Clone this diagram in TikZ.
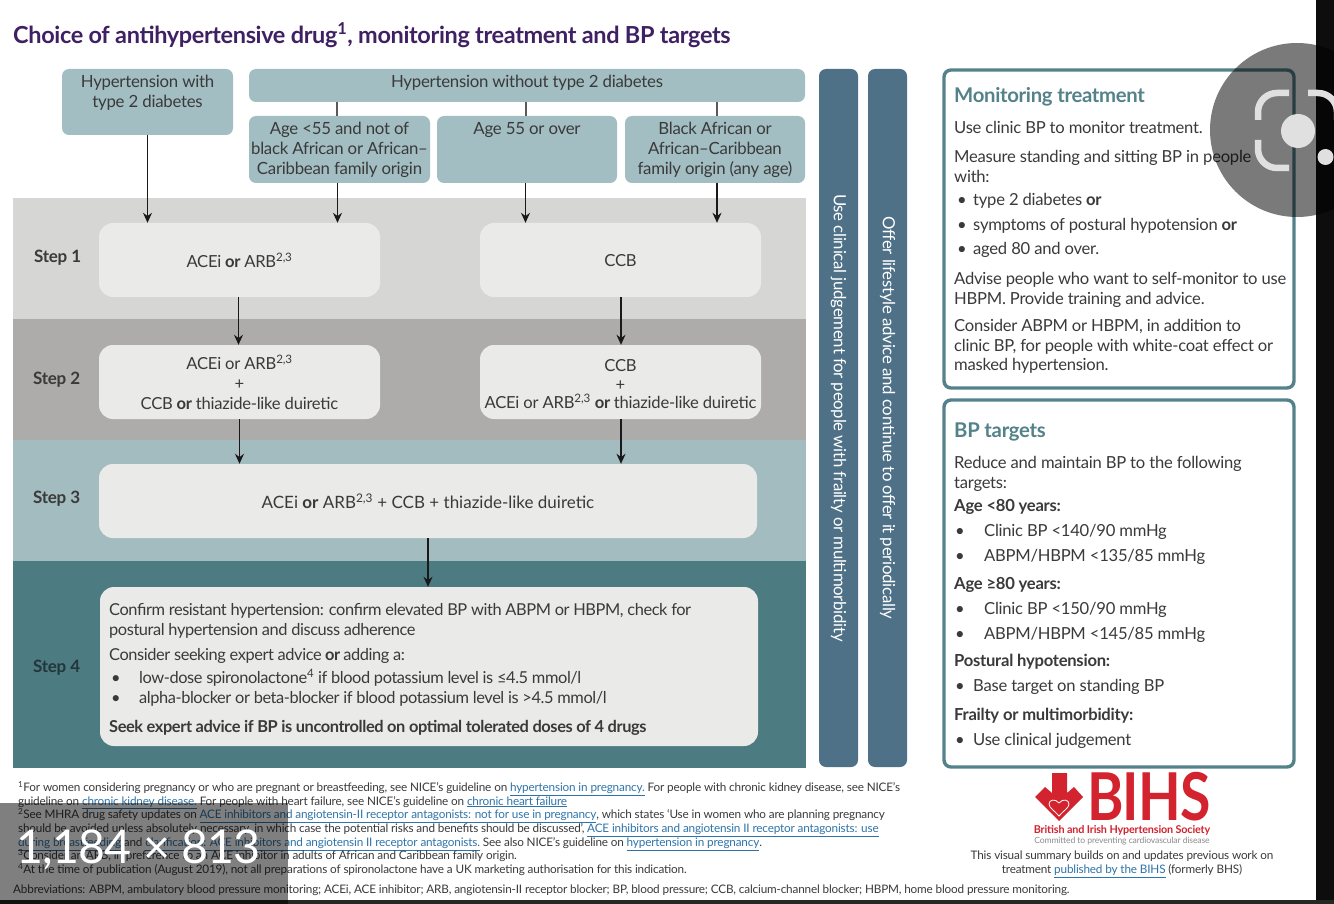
\documentclass[tikz,border=0pt]{standalone}
\usepackage{fontspec}
\setmainfont[LetterSpace=-1.5]{Lato}
\usetikzlibrary{arrows.meta, positioning}
\definecolor{Chdr}{HTML}{A3BEC2}
\definecolor{Cone}{HTML}{D6D6D5}
\definecolor{Ctwo}{HTML}{ADACAA}
\definecolor{Cthree}{HTML}{A2BCC0}
\definecolor{Cfour}{HTML}{4D7B82}
\definecolor{Csoft}{HTML}{EAEAE9}
\definecolor{Cbar}{HTML}{4F7187}
\definecolor{Cpanel}{HTML}{53828A}
\definecolor{Ctxt}{HTML}{3A3A3A}
\definecolor{Ctitle}{HTML}{3F2063}
\definecolor{Clink}{HTML}{2F74A8}
\definecolor{Cred}{HTML}{D2232E}
\newcommand{\lnk}[1]{\textcolor{Clink}{\underline{#1}}}
\newcommand{\bul}[1][19pt]{\makebox[#1][l]{\textbullet}}
\newcommand{\tightlines}{\setlength{\lineskiplimit}{-10pt}}
\tikzset{
  hdrbox/.style={fill=Chdr, rounded corners=7pt, inner sep=0pt, text=Ctxt,
    align=center, font=\fontsize{17}{20}\selectfont},
  hdrtext/.style={inner sep=0pt, text=Ctxt, align=center, anchor=north,
    yshift=-6pt, font=\fontsize{16.8}{20}\selectfont},
  band/.style={inner sep=0pt, minimum width=793pt},
  softbox/.style={fill=Csoft, rounded corners=14pt, inner sep=0pt, text=Ctxt,
    align=center, font=\fontsize{16.6}{20}\selectfont},
  steplabel/.style={inner sep=0pt, text=Ctxt, anchor=west,
    font=\fontsize{17}{20}\selectfont\bfseries},
  sidebar/.style={fill=Cbar, rounded corners=7pt, inner sep=0pt, text=white, rotate=-90,
    minimum width=698pt, minimum height=39pt, font=\fontsize{16.8}{20}\selectfont},
  panel/.style={draw=Cpanel, line width=3.4pt, rounded corners=7pt, inner sep=0pt,
    minimum width=350pt},
  panelhead/.style={inner sep=0pt, anchor=west, text=Cpanel,
    font=\fontsize{20.3}{24}\selectfont\bfseries},
  paneltext/.style={inner sep=0pt, anchor=north west, align=left, text=Ctxt,
    font=\fontsize{16.6}{19.6}\selectfont},
  panelbold/.style={paneltext, font=\fontsize{16.6}{20}\selectfont\bfseries},
  fourtext/.style={paneltext, font=\fontsize{16.4}{20}\selectfont\tightlines\addfontfeatures{LetterSpace=-2.6}},
  footnote/.style={inner sep=0pt, anchor=north west, align=left, text=Ctxt,
    font=\fontsize{11.74}{13.7}\selectfont\tightlines},
  arr/.style={-{Stealth[length=10pt, width=9pt]}, line width=1.2pt, black!90},
  stem/.style={line width=1.2pt, black!65},
  lens/.style={white!88!black, line width=6.5pt, rounded corners=19pt},
}
\begin{document}
\begin{tikzpicture}[x=1pt, y=-1pt]
\useasboundingbox (0,0) rectangle (1334,904);
\fill[white] (0,0) rectangle (1334,904);

%%==========================================================================
%% TITLE
%%==========================================================================
\node[inner sep=0pt, anchor=west, text=Ctitle, font=\fontsize{23.46}{28}\selectfont\bfseries]
  (title) at (13,35) {Choice of antihypertensive drug\textsuperscript{1}, monitoring treatment and BP targets};

%%==========================================================================
%% STEP BANDS
%%==========================================================================
\node[band, fill=Cone, minimum height=121pt] (bandone) at (409.5,258.5) {};
\node[band, fill=Ctwo, minimum height=121pt] (bandtwo) at (409.5,379.5) {};
\node[band, fill=Cthree, minimum height=121pt] (bandthree) at (409.5,500.5) {};
\node[band, fill=Cfour, minimum height=207pt] (bandfour) at (409.5,664.5) {};

\node[steplabel] (lone) at (34,258) {Step 1};
\node[steplabel] (ltwo) at (33,380) {Step 2};
\node[steplabel] (lthree) at (33,499) {Step 3};
\node[steplabel, text=Cfour!45!black] (lfour) at (33,668) {Step 4};

%%==========================================================================
%% ENTRY BOXES
%%==========================================================================
\node[hdrbox, minimum width=171pt, minimum height=66pt,
  label={[hdrtext]north:Hypertension with\\type 2 diabetes}] (diab) at (147.5,102) {};
\node[hdrbox, minimum width=556pt, minimum height=33pt,
  label={[hdrtext]north:Hypertension without type 2 diabetes}] (nodiab) at (527,85.5) {};
\node[hdrbox, minimum width=181pt, minimum height=67pt,
  label={[hdrtext]north:Age <55 and not of\\black African or African--\\Caribbean family origin}] (young) at (339.5,149.5) {};
\node[hdrbox, minimum width=180pt, minimum height=67pt,
  label={[hdrtext]north:Age 55 or over}] (older) at (527,149.5) {};
\node[hdrbox, minimum width=180pt, minimum height=67pt,
  label={[hdrtext]north:Black African or\\African--Caribbean\\family origin (any age)}] (black) at (715,149.5) {};

%%==========================================================================
%% TREATMENT BOXES
%%==========================================================================
\node[softbox, minimum width=281pt, minimum height=74pt] (oneleft) at (239.5,260)
  {ACEi \textbf{or} ARB\textsuperscript{2,3}};
\node[softbox, minimum width=281pt, minimum height=74pt, text height=14pt] (oneright) at (620.5,260) {CCB};
\node[softbox, minimum width=281pt, minimum height=74pt] (twoleft) at (239.5,382)
  {ACEi or ARB\textsuperscript{2,3}\\+\\CCB \textbf{or} thiazide-like duiretic};
\node[softbox, minimum width=281pt, minimum height=74pt] (tworight) at (620.5,382)
  {\rule{0pt}{17pt}CCB\\[-1.5pt]+\\[-1.5pt]ACEi or ARB\textsuperscript{2,3} \textbf{or} thiazide-like duiretic};
\node[softbox, minimum width=658pt, minimum height=74pt,
  font=\fontsize{17}{20}\selectfont\addfontfeatures{LetterSpace=0}] (three) at (428,501)
  {ACEi \textbf{or} ARB\textsuperscript{2,3} + CCB + thiazide-like duiretic};
\node[softbox, minimum width=658pt, minimum height=159pt] (four) at (429,666.5) {};

\node[fourtext] (foura) at (109,603)
  {Confirm resistant hypertension: confirm elevated BP with ABPM or HBPM, check for\\postural hypertension and discuss adherence};
\node[fourtext] (fourb) at (109,648)
  {Consider seeking expert advice \textbf{or} adding a:};
\node[fourtext] (fourc) at (111,669)
  {\bul[28pt]low-dose spironolactone\textsuperscript{4} if blood potassium level is ≤4.5 mmol/l\\
   \bul[28pt]alpha-blocker or beta-blocker if blood potassium level is >4.5 mmol/l};
\node[fourtext, font=\fontsize{16.4}{20}\selectfont\bfseries\addfontfeatures{LetterSpace=-2.6}] (fourd) at (109,720)
  {Seek expert advice if BP is uncontrolled on optimal tolerated doses of 4 drugs};

%% Connectors
\draw[stem] ([xshift=-2.5pt]young.north) -- ([xshift=-2.5pt]young.north |- nodiab.south);
\draw[stem] ([xshift=-1pt]older.north) -- ([xshift=-1pt]older.north |- nodiab.south);
\draw[stem] ([xshift=2pt]black.north) -- ([xshift=2pt]black.north |- nodiab.south);

\draw[arr] (diab.south) -- (diab.south |- oneleft.north);
\draw[arr] ([xshift=-2pt]young.south) -- ([xshift=-2pt]young.south |- oneleft.north);
\draw[arr] ([xshift=-1.5pt]older.south) -- ([xshift=-1.5pt]older.south |- oneright.north);
\draw[arr] ([xshift=2pt]black.south) -- ([xshift=2pt]black.south |- oneright.north);
\draw[arr] ([xshift=-1pt]oneleft.south) -- ([xshift=-1pt]twoleft.north);
\draw[arr] ([xshift=0.5pt]oneright.south) -- ([xshift=0.5pt]tworight.north);
\draw[arr] (twoleft.south) -- (twoleft.south |- three.north);
\draw[arr] ([xshift=0.5pt]tworight.south) -- ([xshift=0.5pt]tworight.south |- three.north);
\draw[arr] (three.south) -- (three.south |- four.north);

%%==========================================================================
%% SIDE BARS
%%==========================================================================
\node[sidebar] (barjudge) at (838.5,418) {Use clinical judgement for people with frailty or multimorbidity};
\node[sidebar] (baroffer) at (887.5,418) {Offer lifestyle advice and continue to offer it periodically};

%%==========================================================================
%% MONITORING PANEL
%%==========================================================================
\node[panel, minimum height=318pt] (monitor) at (1119,229) {};
\node[panelhead] (monhead) at (954,97) {Monitoring treatment};
\node[paneltext] (mona) at (954,121) {Use clinic BP to monitor treatment.};
\node[paneltext] (monb) at (954,150) {Measure standing and sitting BP in people\\with:};
\node[paneltext] (monc) at (957,193)
  {\bul[16pt]type 2 diabetes \textbf{or}\\[5pt]
   \bul[16pt]symptoms of postural hypotension \textbf{or}\\[5pt]
   \bul[16pt]aged 80 and over.};
\node[paneltext] (mond) at (954,272) {Advise people who want to self-monitor to use\\HBPM. Provide training and advice.};
\node[paneltext] (mone) at (954,319) {Consider ABPM or HBPM, in addition to\\clinic BP, for people with white-coat effect or\\masked hypertension.};

%%==========================================================================
%% TARGETS PANEL
%%==========================================================================
\node[panel, minimum height=367pt] (targets) at (1119,583.5) {};
\node[panelhead] (tarhead) at (954,432) {BP targets};
\node[paneltext] (tara) at (954,456) {Reduce and maintain BP to the following\\targets:};
\node[panelbold] (tarb) at (954,499) {Age <80 years:};
\node[paneltext] (tarc) at (955,524)
  {\bul[29pt]Clinic BP <140/90 mmHg\\[5pt]\bul[29pt]ABPM/HBPM <135/85 mmHg};
\node[panelbold] (tard) at (954,577) {Age ≥80 years:};
\node[paneltext] (tare) at (955,602)
  {\bul[29pt]Clinic BP <150/90 mmHg\\[5pt]\bul[29pt]ABPM/HBPM <145/85 mmHg};
\node[panelbold] (tarf) at (954,654) {Postural hypotension:};
\node[paneltext] (targ) at (955,679) {\bul[18pt]Base target on standing BP};
\node[panelbold] (tarh) at (954,708) {Frailty or multimorbidity:};
\node[paneltext] (tari) at (955,733) {\bul[18pt]Use clinical judgement};

%%==========================================================================
%% FOOTNOTES
%%==========================================================================
\node[footnote] (notes) at (18,781)
  {\textsuperscript{1}For women considering pregnancy or who are pregnant or breastfeeding, see NICE's guideline on \lnk{hypertension in pregnancy.} For people with chronic kidney disease, see NICE's\\
   guideline on \lnk{chronic kidney disease.} For people with heart failure, see NICE's guideline on \lnk{chronic heart failure}\\
   \textsuperscript{2}See MHRA drug safety updates on \lnk{ACE inhibitors and angiotensin-II receptor antagonists: not for use in pregnancy}, which states `Use in women who are planning pregnancy\\
   should be avoided unless absolutely necessary, in which case the potential risks and benefits should be discussed', \lnk{ACE inhibitors and angiotensin II receptor antagonists: use}\\
   \lnk{during breastfeeding} and \lnk{clarification: ACE inhibitors and angiotensin II receptor antagonists.} See also NICE's guideline on \lnk{hypertension in pregnancy}.\\
   \textsuperscript{3}Consider an ARB, in preference to an ACE inhibitor in adults of African and Caribbean family origin.\\
   \textsuperscript{4}At the time of publication (August 2019), not all preparations of spironolactone have a UK marketing authorisation for this indication.};
\node[footnote] (abbrev) at (13,885)
  {Abbreviations: ABPM, ambulatory blood pressure monitoring; ACEi, ACE inhibitor; ARB, angiotensin-II receptor blocker; BP, blood pressure; CCB, calcium-channel blocker; HBPM, home blood pressure monitoring.};

%%==========================================================================
%% LOGO
%%==========================================================================
\fill[Cred] (1052,773) -- (1067,773) -- (1067,793) -- (1074,787) -- (1083,797) -- (1059,821)
  -- (1035,797) -- (1045,787) -- (1052,793) -- cycle;
\draw[white, line width=0.8pt] (1059,803) .. controls (1055,798) and (1049,800) .. (1049,804)
  .. controls (1049,808) and (1055,811) .. (1059,816)
  .. controls (1063,811) and (1069,808) .. (1069,804)
  .. controls (1069,800) and (1063,798) .. (1059,803);
\node[inner sep=0pt, anchor=base west, text=Cred, xscale=0.84,
  font=\fontsize{66}{66}\selectfont\bfseries] (bihs) at (1087,820) {BIHS};
\node[inner sep=0pt, text=Cred, font=\fontsize{10.8}{12}\selectfont\bfseries] (society) at (1122,830)
  {British and Irish Hypertension Society};
\node[inner sep=0pt, text=black!45, font=\fontsize{8.6}{10}\selectfont] (motto) at (1122,841)
  {Committed to preventing cardiovascular disease};
\node[footnote, anchor=north, align=center] (summary) at (1122,851)
  {This visual summary builds on and updates previous work on\\treatment \lnk{published by the BIHS} (formerly BHS)};

%%==========================================================================
%% SCREENSHOT OVERLAYS
%%==========================================================================
\fill[black!95] (1315.5,0) rectangle (1334,904);
\fill[black!85] (0,900) rectangle (1334,904);
\fill[black, opacity=0.5] (0,803) rectangle (288,904);
\node[inner sep=0pt, anchor=west, text=white, font=\fontsize{46.5}{50}\selectfont] (dims) at (16,850)
  {1,184 × 813};
\fill[black, opacity=0.52] (1297,130) circle (87);
\draw[lens] (1289,93) -- (1258,93) -- (1258,120);
\draw[lens] (1258,140) -- (1258,168) -- (1289,168);
\draw[lens] (1308,93) -- (1337,93) -- (1337,120);
\fill[white!88!black] (1298,131) circle (17);
\fill[white!88!black] (1325.5,157) circle (8);
\end{tikzpicture}
\end{document}
